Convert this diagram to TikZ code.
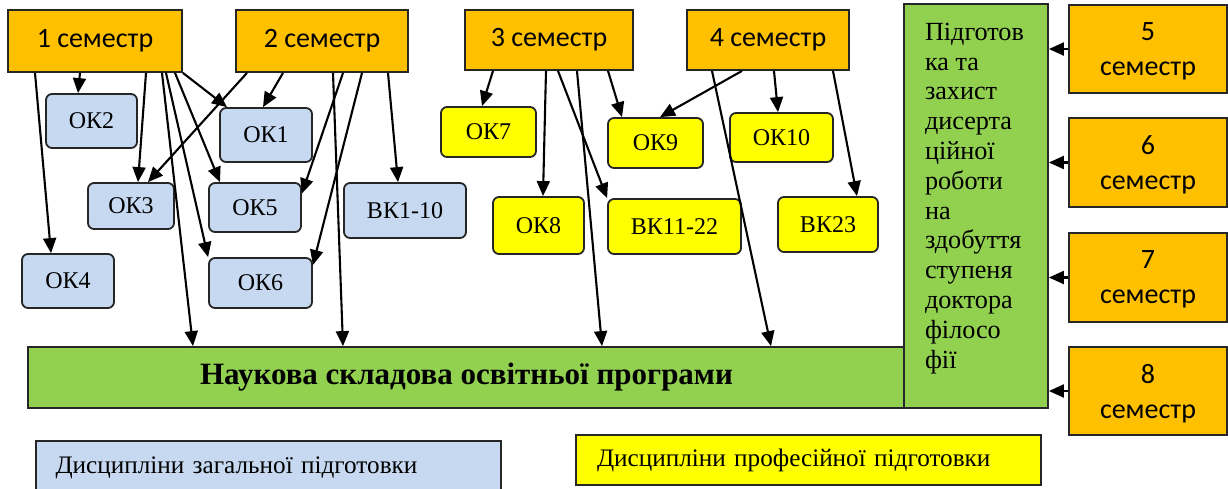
\documentclass[tikz,border=0pt]{standalone}
\usepackage{fontspec}
\setmainfont{Liberation Serif}
\newfontfamily\semfont{Carlito}
\usetikzlibrary{arrows.meta}
\definecolor{myorange}{HTML}{FFC000}
\definecolor{myblue}{HTML}{C6D9F1}
\definecolor{myyellow}{HTML}{FFFF00}
\definecolor{mygreen}{HTML}{92D050}
\tikzset{
    every node/.style={draw=black!85,line width=0.9pt,inner sep=0pt},
    sem/.style={rectangle,fill=myorange,font=\semfont\fontsize{14}{17.5}\selectfont,align=center},
    disc/.style={rectangle,rounded corners=3pt,font=\fontsize{12}{14}\selectfont},
    gen/.style={disc,fill=myblue},
    prof/.style={disc,fill=myyellow},
    sci/.style={rectangle,fill=mygreen},
    legend/.style={rectangle,font=\fontsize{12.6}{15}\selectfont,align=left},
    link/.style={-{Triangle[length=7.5pt,width=6.5pt]},line width=1.05pt}
}
\begin{document}
\begin{tikzpicture}[x=0.5pt,y=-0.5pt]
\useasboundingbox (0,0) rectangle (1228,488);

\node[sem,minimum width=87pt,minimum height=31pt] at (95,41) (s1) {1 семестр};
\node[sem,minimum width=86pt,minimum height=31pt] at (322,41) (s2) {2 семестр};
\node[sem,minimum width=84pt,minimum height=30pt] at (549,40) (s3) {3 семестр};
\node[sem,minimum width=81pt,minimum height=30pt] at (768,40) (s4) {4 семестр};

\node[gen,minimum width=45.5pt,minimum height=27pt] at (91.5,121) (ok2) {ОК2};
\node[gen,minimum width=46pt,minimum height=27pt] at (266,135) (ok1) {ОК1};
\node[gen,minimum width=43pt,minimum height=23pt] at (131,206) (ok3) {ОК3};
\node[gen,minimum width=46pt,minimum height=24.5pt] at (255,207.5) (ok5) {ОК5};
\node[gen,minimum width=61pt,minimum height=27.5pt] at (405,210.5) (vk1) {ВК1-10};
\node[gen,minimum width=46pt,minimum height=27pt] at (68,281) (ok4) {ОК4};
\node[gen,minimum width=51.5pt,minimum height=25pt] at (260.5,283) (ok6) {ОК6};

\node[prof,minimum width=47.5pt,minimum height=25pt] at (488.5,132) (ok7) {ОК7};
\node[prof,minimum width=47.5pt,minimum height=25pt] at (655.5,143) (ok9) {ОК9};
\node[prof,minimum width=51.5pt,minimum height=24.5pt] at (781.5,137.5) (ok10) {ОК10};
\node[prof,minimum width=45.5pt,minimum height=28.5pt] at (538.5,225.5) (ok8) {ОК8};
\node[prof,minimum width=66.5pt,minimum height=27.5pt] at (674.5,226.5) (vk11) {ВК11-22};
\node[prof,minimum width=50pt,minimum height=27.5pt] at (828,224.5) (vk23) {ВК23};

\node[sci,minimum width=438.5pt,minimum height=30.5pt,font=\bfseries\fontsize{15.5}{18}\selectfont] at (466.5,377.5) (nauk) {Наукова складова освітньої програми};
\node[sci,minimum width=72pt,minimum height=202pt] at (976,206) (diss) {};
\node[draw=none,anchor=north west,align=left,font=\fontsize{13.1}{14.9}\selectfont] at ([xshift=10.5pt,yshift=-9.5pt]diss.north west) (dtext) {Підготов\\ка та\\захист\\дисерта\\ційної\\роботи\\на\\здобуття\\ступеня\\доктора\\філосо\\фії};

\node[sem,minimum width=79pt,minimum height=44pt,text depth=0pt] at (1148,49) (s5) {5\\семестр};
\node[sem,minimum width=79pt,minimum height=44.5pt,text depth=0pt] at (1148,162.5) (s6) {6\\семестр};
\node[sem,minimum width=79pt,minimum height=44.5pt,text depth=0pt] at (1148,277.5) (s7) {7\\семестр};
\node[sem,minimum width=79pt,minimum height=44pt,text depth=0pt] at (1148,391) (s8) {8\\семестр};
\draw[link] (s5.west) -- (s5.west -| diss.east);
\draw[link] (s6.west) -- (s6.west -| diss.east);
\draw[link] (s7.west) -- (s7.west -| diss.east);
\draw[link] (s8.west) -- (s8.west -| diss.east);

\node[legend,fill=myblue,minimum width=232.5pt,minimum height=27pt,text width=213pt] at (268.5,468) (lgen) {Дисципліни загальної підготовки};
\node[legend,fill=myyellow,minimum width=232.5pt,minimum height=25pt,text width=211.5pt] at (808.5,460) (lprof) {Дисципліни професійної підготовки};

\draw[link] ([xshift=-30pt]s1.south) -- ([xshift=-8.5pt]ok4.north);
\draw[link] ([xshift=-7.5pt]s1.south) -- ([xshift=-6.75pt]ok2.north);
\draw[link] ([xshift=25.5pt]s1.south) -- ([xshift=3.5pt]ok3.north);
\draw[link] ([xshift=33.5pt]s1.south) -- ([xshift=-136.75pt]nauk.north);
\draw[link] ([xshift=35.5pt]s1.south) -- (ok6.north west);
\draw[link] ([xshift=40pt]s1.south) -- ([xshift=-17.5pt]ok5.north);
\draw[link] (s1.south east) -- ([xshift=-19.5pt]ok1.north);

\draw[link] ([xshift=-37.5pt]s2.south) -- ([xshift=8.5pt]ok3.north);
\draw[link] ([xshift=-19.5pt]s2.south) -- ([xshift=-1.5pt]ok1.north);
\draw[link] ([xshift=5.5pt]s2.south) -- ([xshift=-61.75pt]nauk.north);
\draw[link] ([xshift=10.5pt]s2.south) -- ([yshift=7pt]ok5.east);
\draw[link] ([xshift=20pt]s2.south) -- ([yshift=9pt]ok6.east);
\draw[link] ([xshift=33pt]s2.south) -- ([xshift=-3.5pt]vk1.north);

\draw[link] ([xshift=-28pt]s3.south) -- ([xshift=-3.25pt]ok7.north);
\draw[link] ([xshift=-1.5pt]s3.south) -- ([xshift=2.25pt]ok8.north);
\draw[link] ([xshift=4.5pt]s3.south) -- (vk11.north west);
\draw[link] ([xshift=14pt]s3.south) -- ([xshift=67.75pt]nauk.north);
\draw[link] ([xshift=29.5pt]s3.south) -- ([xshift=-16.75pt]ok9.north);

\draw[link] ([xshift=-28pt]s4.south) -- ([xshift=152.25pt]nauk.north);
\draw[link] ([xshift=-13pt]s4.south) -- ([xshift=2.25pt]ok9.north);
\draw[link] ([xshift=3pt]s4.south) -- ([xshift=-1.75pt]ok10.north);
\draw[link] ([xshift=32.5pt]s4.south) -- ([xshift=14.5pt]vk23.north);
\end{tikzpicture}
\end{document}
